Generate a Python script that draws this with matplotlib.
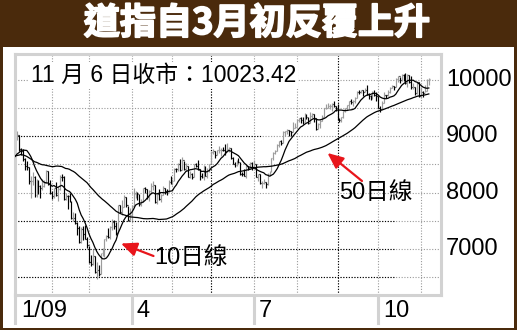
import numpy as np
import pandas as pd
import matplotlib
matplotlib.use("Agg")
import matplotlib.pyplot as plt
from matplotlib.collections import LineCollection
from matplotlib.patches import Rectangle
from matplotlib.lines import Line2D
from matplotlib import transforms
import matplotlib.patheffects as pe

# ---------------- data ----------------
# late-2008 closes (only used to seed the moving averages)
close_2008 = [9265.43, 9033.66, 8519.21, 8691.25, 8378.95, 8175.77, 9065.12, 8990.96, 9180.69, 9325.01,
              9319.83, 9625.28, 9139.27, 8695.79, 8943.81, 8870.54, 8693.96, 8282.66, 8835.25, 8497.31,
              8273.58, 8424.75, 7997.28, 7552.29, 8046.42, 8443.39, 8479.47, 8726.61, 8829.04,
              8149.09, 8419.09, 8591.69, 8376.24, 8635.42, 8934.18, 8691.33, 8761.42, 8565.09, 8629.68,
              8564.53, 8924.14, 8824.34, 8604.99, 8579.11, 8519.69, 8419.49, 8468.48, 8515.55, 8483.93,
              8668.39, 8776.39]

# 2009 daily closes, Jan 2 .. Nov 6
close = [
    # Jan
    9034.69, 8952.89, 9015.10, 8769.70, 8742.46, 8599.18, 8473.97, 8448.56, 8200.14, 8212.49,
    8281.22, 7949.09, 8228.10, 8122.80, 8077.56, 8116.03, 8174.73, 8375.45, 8149.01, 8000.86,
    # Feb
    7936.83, 8078.36, 7956.66, 8063.07, 8280.59, 8270.87, 7888.88, 7939.53, 7932.76, 7850.41,
    7552.60, 7555.63, 7465.95, 7365.67, 7114.78, 7350.94, 7270.89, 7182.08, 7062.93,
    # Mar
    6763.29, 6726.02, 6875.84, 6594.44, 6626.94, 6547.05, 6926.49, 6930.40, 7170.06, 7223.98,
    7216.97, 7395.70, 7486.58, 7400.80, 7278.38, 7775.86, 7660.21, 7749.81, 7924.56, 7776.18,
    7522.02, 7608.92,
    # Apr
    7761.60, 7978.08, 8017.59, 7975.85, 7789.56, 7837.11, 8083.38, 8057.81, 7920.18, 8029.62,
    8125.43, 8131.33, 7841.73, 7969.56, 7886.57, 7957.06, 8076.29, 8025.00, 8016.95, 8185.73,
    8168.12,
    # May
    8212.41, 8426.74, 8410.65, 8512.28, 8409.85, 8574.65, 8418.77, 8469.11, 8284.89, 8331.32,
    8268.64, 8504.08, 8474.85, 8422.04, 8292.13, 8277.32, 8473.49, 8300.02, 8403.80, 8500.33,
    # Jun
    8721.44, 8740.87, 8675.24, 8750.24, 8763.13, 8764.49, 8763.06, 8739.02, 8770.92, 8799.26,
    8612.13, 8504.67, 8497.18, 8555.60, 8539.73, 8339.01, 8322.91, 8299.86, 8472.40, 8438.39,
    8529.38, 8447.00,
    # Jul
    8504.06, 8280.74, 8324.87, 8163.60, 8178.41, 8183.17, 8146.52, 8331.68, 8359.49, 8616.21,
    8711.82, 8743.94, 8848.15, 8915.94, 8881.26, 9069.29, 9093.24, 9108.51, 9096.72, 9070.72,
    9154.46, 9171.61,
    # Aug
    9286.56, 9320.19, 9280.97, 9256.26, 9370.07, 9337.95, 9241.45, 9361.61, 9398.19, 9321.40,
    9135.34, 9217.94, 9279.16, 9350.05, 9505.96, 9509.28, 9539.29, 9543.52, 9580.63, 9544.20,
    9496.28,
    # Sep
    9310.60, 9280.67, 9344.61, 9441.27, 9497.34, 9547.22, 9627.48, 9605.41, 9626.80, 9683.41,
    9791.71, 9783.92, 9820.20, 9778.86, 9829.87, 9748.55, 9707.44, 9665.19, 9789.36, 9742.20,
    9712.28,
    # Oct
    9509.28, 9487.67, 9599.75, 9731.25, 9725.58, 9786.87, 9864.94, 9885.80, 9871.06, 10015.86,
    10062.94, 9995.91, 10092.19, 10041.48, 9949.36, 10081.31, 9972.18, 9867.96, 9882.17, 9762.69,
    9962.58, 9712.73,
    # Nov
    9789.44, 9771.91, 9802.14, 10005.96, 10023.42,
]

high = [
    9065, 9080, 9090, 9020, 8790, 8780, 8610, 8560, 8450, 8290,
    8370, 8290, 8250, 8230, 8140, 8250, 8230, 8400, 8380, 8230,
    8020, 8090, 8190, 8100, 8320, 8330, 8290, 8000, 7950, 7990,
    7850, 7650, 7640, 7470, 7410, 7390, 7400, 7420, 7210,
    7060, 6890, 7000, 6870, 6760, 6710, 6930, 7010, 7180, 7250,
    7370, 7400, 7530, 7520, 7470, 7780, 7780, 7860, 7950, 7920,
    7770, 7720,
    7780, 8080, 8030, 8010, 7970, 7880, 8090, 8100, 8060, 8040,
    8170, 8200, 8130, 7990, 8060, 7970, 8110, 8080, 8070, 8230,
    8300,
    8240, 8430, 8440, 8530, 8590, 8630, 8570, 8520, 8470, 8380,
    8340, 8510, 8530, 8580, 8420, 8350, 8490, 8480, 8440, 8510,
    8740, 8780, 8740, 8760, 8830, 8790, 8810, 8860, 8880, 8810,
    8800, 8640, 8550, 8580, 8610, 8540, 8370, 8420, 8490, 8480,
    8550, 8540,
    8580, 8500, 8330, 8330, 8200, 8250, 8190, 8340, 8380, 8620,
    8720, 8760, 8870, 8920, 8940, 9090, 9100, 9130, 9110, 9100,
    9250, 9230,
    9300, 9330, 9340, 9350, 9420, 9390, 9340, 9430, 9410, 9400,
    9320, 9240, 9290, 9370, 9510, 9580, 9600, 9570, 9600, 9630,
    9540,
    9580, 9330, 9350, 9450, 9500, 9560, 9630, 9660, 9640, 9700,
    9800, 9830, 9830, 9820, 9860, 9920, 9770, 9730, 9800, 9820,
    9780,
    9710, 9530, 9630, 9790, 9740, 9830, 9870, 9920, 9890, 10030,
    10070, 10060, 10100, 10100, 10120, 10100, 10090, 10070, 9950, 9880,
    9970, 9960,
    9880, 9800, 9920, 10010, 10040,
]

low = [
    8760, 8900, 8940, 8740, 8660, 8570, 8410, 8400, 8150, 7910,
    8130, 7930, 7920, 7980, 7910, 8040, 8100, 8170, 8130, 7970,
    7880, 7910, 7940, 7850, 8050, 8200, 7860, 7860, 7710, 7830,
    7530, 7490, 7440, 7250, 7100, 7110, 7150, 7170, 7020,
    6750, 6700, 6720, 6580, 6470, 6510, 6550, 6880, 6860, 7140,
    7200, 7170, 7330, 7360, 7250, 7280, 7640, 7600, 7740, 7750,
    7490, 7520,
    7490, 7760, 7900, 7870, 7760, 7760, 7840, 7990, 7890, 7850,
    7980, 8050, 7820, 7800, 7870, 7830, 7950, 7980, 7960, 8010,
    8150,
    8140, 8210, 8360, 8380, 8380, 8400, 8400, 8390, 8270, 8260,
    8240, 8270, 8450, 8410, 8230, 8260, 8230, 8290, 8260, 8370,
    8500, 8690, 8610, 8670, 8700, 8650, 8740, 8670, 8740, 8730,
    8590, 8500, 8450, 8480, 8520, 8320, 8300, 8290, 8260, 8410,
    8430, 8400,
    8440, 8270, 8200, 8150, 8090, 8150, 8090, 8140, 8300, 8360,
    8580, 8680, 8740, 8810, 8850, 8880, 9000, 9040, 9000, 9010,
    9070, 9140,
    9170, 9250, 9240, 9220, 9260, 9300, 9210, 9230, 9330, 9260,
    9120, 9130, 9140, 9270, 9350, 9490, 9510, 9490, 9450, 9520,
    9450,
    9290, 9260, 9260, 9330, 9440, 9460, 9510, 9580, 9540, 9600,
    9680, 9750, 9770, 9720, 9780, 9740, 9660, 9640, 9660, 9720,
    9620,
    9500, 9430, 9480, 9600, 9680, 9720, 9770, 9850, 9820, 9870,
    9960, 9950, 9980, 9990, 9930, 9880, 9940, 9840, 9840, 9740,
    9760, 9700,
    9680, 9690, 9790, 9800, 9920,
]

month_start_idx = [20, 39, 61, 82, 102, 124, 146, 167, 188, 210]   # first trading day of Feb..Nov
label_idx = [0, 61, 124, 188]
x_labels = ["1/09", "4", "7", "10"]
y_grid = [6500, 7000, 7500, 8000, 8500, 9000, 9500, 10000]
y_ticks = [7000, 8000, 9000, 10000]
y_tick_labels = ["7000", "8000", "9000", "10000"]

title = "道指自3月初反覆上升"
note = "11 月 6 日收市：10023.42"
ma_labels = ["10日線", "50日線"]

# ---------------- derived series ----------------
all_close = pd.Series(close_2008 + close)
n08 = len(close_2008)
ma10 = all_close.rolling(10).mean().to_numpy()[n08:]
ma50 = all_close.rolling(50).mean().to_numpy()[n08:]
opens = all_close.shift(1).to_numpy()[n08:]
idx = np.arange(len(close))

# ---------------- figure ----------------
W, H = 517, 330
BROWN = "#4a2a0c"
fig = plt.figure(figsize=(W / 100, H / 100), dpi=100, facecolor=BROWN)
fx = lambda px: px / W
fy = lambda py: 1 - py / H

fig.patches.append(Rectangle((fx(3), fy(327.5)), fx(511), (327.5 - 47) / H,
                             transform=fig.transFigure, facecolor="white", edgecolor="none", zorder=-10))

fig.text(fx(257), fy(23.5), title, color="white", fontsize=26, fontweight="bold",
         family=["Noto Sans CJK TC", "DejaVu Sans"], ha="center", va="center",
         path_effects=[pe.withStroke(linewidth=1.3, foreground="white")])

# pixel mapping: x_px = 13.2 + 1.942*i ; y_px = 80 + (10000-v)*0.0563
L, R, T, B = 15.3, 441.0, 53.5, 294.5
ax = fig.add_axes([fx(L), fy(B), (R - L) / W, (B - T) / H])
ax.set_zorder(1)
ax.set_xlim((L - 13.2) / 1.942, (R - 13.2) / 1.942)
ax.set_ylim(10000 - (B - 80) / 0.0563, 10000 - (T - 80) / 0.0563)
ax.set_facecolor("white")
for s in ax.spines.values():
    s.set_color("#d2d2d2")
    s.set_linewidth(2.2)
ax.set_xticks([])
ax.set_yticks([])

# grid
DOT = (0, (1, 1.5))
for v in y_grid:
    ax.axhline(v, color="#9a9a9a", lw=0.8, ls=DOT, zorder=1)
for i in month_start_idx:
    ax.axvline(i, color="#9a9a9a", lw=0.8, ls=DOT, zorder=1)
# darker grid segments
xl = ax.get_xlim()
for v in [6500, 7000, 7500]:
    ax.plot([xl[0], (395 - 13.2) / 1.942], [v, v], color="black", lw=0.8, ls=DOT, zorder=1)
ax.plot([xl[0], (262 - 13.2) / 1.942], [9000, 9000], color="black", lw=0.8, ls=DOT, zorder=1)
for i in [102, 167]:
    ax.axvline(i, color="black", lw=0.8, ls=DOT, zorder=1)

# OHLC bars
up = np.array(close) >= opens
segs_up, segs_dn = [], []
for i in idx:
    s = [[(i, low[i]), (i, high[i])], [(i - 0.45, opens[i]), (i, opens[i])], [(i, close[i]), (i + 0.45, close[i])]]
    (segs_up if up[i] else segs_dn).extend(s)
ax.add_collection(LineCollection(segs_up, colors="#9c9c9c", linewidths=0.85, zorder=2))
ax.add_collection(LineCollection(segs_dn, colors="black", linewidths=0.85, zorder=2))

# moving averages
ax.plot(idx, ma10, color="black", lw=0.9, zorder=3)
ax.plot(idx, ma50, color="black", lw=0.9, zorder=3)

FONT = ["Liberation Sans", "Noto Sans CJK TC"]

# right value labels
tr_right = transforms.blended_transform_factory(fig.transFigure, ax.transData)
for v, lab in zip(y_ticks, y_tick_labels):
    ax.text(fx(446), v, lab, transform=tr_right, ha="left", va="center", fontsize=17,
            family=FONT, color="black", clip_on=False)

# bottom label strip
tr_bot = transforms.blended_transform_factory(ax.transData, fig.transFigure)
for i, lab in zip(label_idx, x_labels):
    xi = max(i, xl[0])
    ax.add_line(Line2D([xi, xi], [fy(294.5), fy(323)], transform=tr_bot, color="#d2d2d2",
                       lw=2.2, clip_on=False))
    off = transforms.offset_copy(tr_bot, fig=fig, x=3.5 if i else 4.0, y=0, units="points")
    ax.text(xi, fy(311), lab, transform=off, ha="left", va="center", fontsize=17,
            family=FONT, clip_on=False)

# close note
ax.text(fx(31), fy(75.5), note, transform=fig.transFigure, ha="left", va="center", fontsize=16.5,
        family=FONT, bbox=dict(facecolor="white", edgecolor="none", pad=1.5), zorder=5)

# MA annotations
RED = "#e8151b"
arrow = dict(arrowstyle="-|>,head_length=0.95,head_width=0.42", color=RED, lw=1.6,
             shrinkA=0, shrinkB=0, mutation_scale=10)
ax.annotate("", xy=(fx(121), fy(243.5)), xycoords="figure fraction",
            xytext=(fx(153.5), fy(256)), textcoords="figure fraction", arrowprops=arrow, zorder=6)
ax.text(fx(154.5), fy(258.5), ma_labels[0], transform=fig.transFigure, ha="left", va="center",
        fontsize=17, family=FONT, zorder=6)
ax.annotate("", xy=(fx(327.5), fy(153)), xycoords="figure fraction",
            xytext=(fx(362), fy(181)), textcoords="figure fraction", arrowprops=arrow, zorder=6)
ax.text(fx(339.5), fy(193), ma_labels[1], transform=fig.transFigure, ha="left", va="center",
        fontsize=17, family=FONT, zorder=6)

fig.savefig("out.png", dpi=100, facecolor=BROWN)
